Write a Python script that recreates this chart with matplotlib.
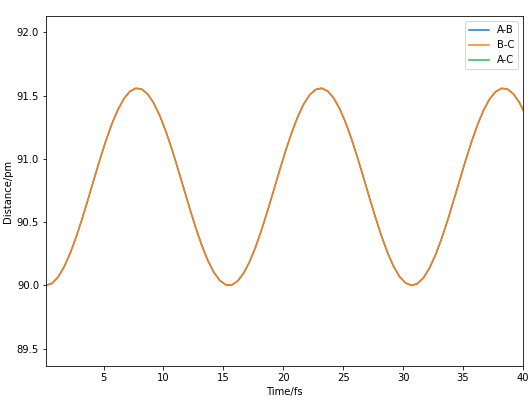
import matplotlib
matplotlib.use("Agg")
import matplotlib.pyplot as plt

# time axis, fs (read every 0.5 fs off the reference)
time_fs = [0.2 + 0.5 * i for i in range(81)]

# A-B and B-C distances lie on top of each other in the reference
ab_dist = [90.000, 90.016, 90.065, 90.144, 90.250, 90.378, 90.523, 90.678, 90.839, 90.996,
           91.145, 91.278, 91.390, 91.476, 91.534, 91.559, 91.551, 91.511, 91.440, 91.341,
           91.219, 91.078, 90.924, 90.765, 90.606, 90.454, 90.316, 90.198, 90.104, 90.039,
           90.005, 90.003, 90.035, 90.098, 90.189, 90.306, 90.443, 90.593, 90.752, 90.912,
           91.066, 91.208, 91.332, 91.433, 91.507, 91.549, 91.559, 91.537, 91.482, 91.398,
           91.288, 91.156, 91.008, 90.851, 90.691, 90.535, 90.389, 90.259, 90.151, 90.070,
           90.019, 90.000, 90.014, 90.060, 90.137, 90.240, 90.367, 90.510, 90.666, 90.826,
           90.984, 91.133, 91.268, 91.382, 91.471, 91.530, 91.558, 91.553, 91.515, 91.447,
           91.350]
bc_dist = list(ab_dist)
# A-C is the sum of the two bonds, far above the visible window
ac_dist = [a + b for a, b in zip(ab_dist, bc_dist)]

fig = plt.figure(figsize=(532 / 72, 401 / 72), dpi=72)
ax = fig.add_axes([0.0865, 0.0865, 0.8965, 0.8735])

ax.plot(time_fs, ab_dist, color="#1f77b4", label="A-B")
ax.plot(time_fs, bc_dist, color="#ff7f0e", label="B-C")
ax.plot(time_fs, ac_dist, color="#1fb95a", label="A-C")

ax.set_xlim(0.2, 40)
ax.set_ylim(89.36, 92.13)
ax.set_xticks([5, 10, 15, 20, 25, 30, 35, 40])
ax.set_yticks([89.5, 90.0, 90.5, 91.0, 91.5, 92.0])
ax.set_xlabel("Time/fs")
ax.set_ylabel("Distance/pm")
ax.legend(loc="upper right")

fig.savefig("out.png", dpi=72)
